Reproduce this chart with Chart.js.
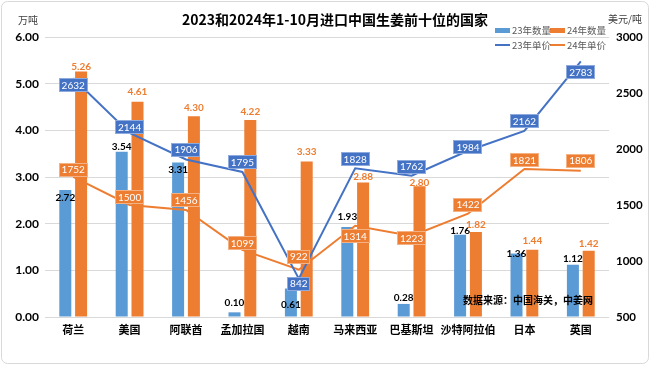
<!DOCTYPE html>
<html>
<head>
<meta charset="utf-8">
<script src="https://cdn.jsdelivr.net/npm/chart.js@4.4.0/dist/chart.umd.min.js"></script>
<style>
  html, body { margin: 0; padding: 0; background: #fff; }
  #wrap { width: 650px; height: 365px; }
</style>
</head>
<body>
<div id="wrap"><canvas id="gingerChart" width="650" height="365"></canvas></div>
<script>
// data
var categories = ["荷兰", "美国", "阿联酋", "孟加拉国", "越南", "马来西亚", "巴基斯坦", "沙特阿拉伯", "日本", "英国"];
var qty2023 = [2.72, 3.54, 3.31, 0.10, 0.61, 1.93, 0.28, 1.76, 1.36, 1.12];
var qty2024 = [5.26, 4.61, 4.30, 4.22, 3.33, 2.88, 2.80, 1.82, 1.44, 1.42];
var price2023 = [2632, 2144, 1906, 1795, 842, 1828, 1762, 1984, 2162, 2783];
var price2024 = [1752, 1500, 1456, 1099, 922, 1314, 1223, 1422, 1821, 1806];
var qtyTicks = [0, 1, 2, 3, 4, 5, 6];
var priceTicks = [500, 1000, 1500, 2000, 2500, 3000];

// label nudges (px, relative to bar top / line point)
var qty23LabelDy = [8, -5, 7, -10, 16, -10, -6, -4, 0, -6];
var qty24LabelDy = [-5, -10, -9, -8, -10, -6, -4, -7, -9, -7];
var price23LabelDy = [7, -6, -10, -10, 5, -9, -9, -4, -10, 11];
var price24LabelDy = [-7, -8, -10, -7, -13, 10, 2, -9, -9, -10];

var NUM_FONT = "Lato, 'Noto Sans CJK SC', sans-serif";
var CJK_FONT = "'Noto Sans CJK SC', sans-serif";
var BLUE_BAR = "#5B9BD5";
var ORANGE = "#ED7D31";
var BLUE_LINE = "#4472C4";

function drawBox(ctx, x, y, text, fill, stroke) {
  ctx.font = "10px " + NUM_FONT;
  var w = ctx.measureText(text).width + 6;
  var h = 14;
  ctx.fillStyle = fill;
  ctx.fillRect(Math.round(x - w / 2), Math.round(y - h / 2), Math.round(w), h);
  ctx.strokeStyle = stroke;
  ctx.lineWidth = 1;
  ctx.strokeRect(Math.round(x - w / 2) + 0.5, Math.round(y - h / 2) + 0.5, Math.round(w) - 1, h - 1);
  ctx.fillStyle = "#fff";
  ctx.textAlign = "center";
  ctx.textBaseline = "middle";
  ctx.fillText(text, x, y + 0.5);
}

var decorPlugin = {
  id: "decor",
  beforeDraw: function (chart) {
    var ctx = chart.ctx;
    ctx.save();
    ctx.fillStyle = "#fff";
    ctx.fillRect(0, 0, chart.width, chart.height);
    ctx.strokeStyle = "#d9d9d9";
    ctx.lineWidth = 1;
    ctx.beginPath();
    ctx.roundRect(1.5, 1.5, chart.width - 3, chart.height - 3, 6);
    ctx.stroke();
    ctx.restore();
  },
  afterDatasetsDraw: function (chart) {
    var ctx = chart.ctx;
    ctx.save();

    // bar value labels
    ctx.font = "bold 10px " + NUM_FONT;
    ctx.textAlign = "center";
    ctx.textBaseline = "middle";
    chart.getDatasetMeta(0).data.forEach(function (el, i) {
      ctx.fillStyle = "#000";
      ctx.fillText(qty2023[i].toFixed(2), el.x, el.y + qty23LabelDy[i]);
    });
    chart.getDatasetMeta(1).data.forEach(function (el, i) {
      ctx.fillStyle = ORANGE;
      ctx.fillText(qty2024[i].toFixed(2), el.x, el.y + qty24LabelDy[i]);
    });

    // line value boxes
    chart.getDatasetMeta(2).data.forEach(function (el, i) {
      drawBox(ctx, el.x, el.y + price23LabelDy[i], String(price2023[i]), BLUE_LINE, "#8faadc");
    });
    chart.getDatasetMeta(3).data.forEach(function (el, i) {
      drawBox(ctx, el.x, el.y + price24LabelDy[i], String(price2024[i]), ORANGE, "#f4b183");
    });
    ctx.restore();
  },
  afterDraw: function (chart) {
    var ctx = chart.ctx;
    ctx.save();

    // title
    ctx.fillStyle = "#000";
    ctx.textAlign = "center";
    ctx.textBaseline = "middle";
    ctx.font = "bold 14px " + CJK_FONT;
    ctx.fillText("2023和2024年1-10月进口中国生姜前十位的国家", 335, 20);

    // axis units
    ctx.font = "10px " + CJK_FONT;
    ctx.fillStyle = "#404040";
    ctx.fillText("万吨", 28, 20);
    ctx.fillText("美元/吨", 625, 19);

    // legend
    ctx.font = "9.5px " + CJK_FONT;
    ctx.textAlign = "left";
    ctx.fillStyle = BLUE_BAR;
    ctx.fillRect(495, 28, 15, 5);
    ctx.fillStyle = ORANGE;
    ctx.fillRect(550, 28, 15, 5);
    ctx.lineWidth = 2;
    ctx.strokeStyle = BLUE_LINE;
    ctx.beginPath(); ctx.moveTo(495, 45); ctx.lineTo(510, 45); ctx.stroke();
    ctx.strokeStyle = ORANGE;
    ctx.beginPath(); ctx.moveTo(550, 45); ctx.lineTo(565, 45); ctx.stroke();
    ctx.fillStyle = "#595959";
    ctx.fillText("23年数量", 512, 30);
    ctx.fillText("24年数量", 567, 30);
    ctx.fillText("23年单价", 512, 45);
    ctx.fillText("24年单价", 567, 45);

    // source
    ctx.fillStyle = "#000";
    ctx.textAlign = "center";
    ctx.font = "bold 10px " + CJK_FONT;
    ctx.fillText("数据来源：中国海关，中姜网", 528, 300);
    ctx.restore();
  }
};

var ctx = document.getElementById("gingerChart").getContext("2d");
new Chart(ctx, {
  type: "bar",
  data: {
    labels: categories,
    datasets: [
      {
        label: "23年数量",
        data: qty2023,
        backgroundColor: BLUE_BAR,
        borderWidth: 0,
        yAxisID: "y",
        order: 2,
        categoryPercentage: 0.56,
        barPercentage: 0.76
      },
      {
        label: "24年数量",
        data: qty2024,
        backgroundColor: ORANGE,
        borderWidth: 0,
        yAxisID: "y",
        order: 2,
        categoryPercentage: 0.56,
        barPercentage: 0.76
      },
      {
        type: "line",
        label: "23年单价",
        data: price2023,
        borderColor: BLUE_LINE,
        borderWidth: 2,
        pointRadius: 0,
        tension: 0,
        yAxisID: "y1",
        order: 1
      },
      {
        type: "line",
        label: "24年单价",
        data: price2024,
        borderColor: ORANGE,
        borderWidth: 2,
        pointRadius: 0,
        tension: 0,
        yAxisID: "y1",
        order: 1
      }
    ]
  },
  options: {
    responsive: false,
    animation: false,
    layout: { padding: { top: 37, left: 0, right: 0, bottom: 0 } },
    plugins: {
      legend: { display: false },
      tooltip: { enabled: false }
    },
    scales: {
      x: {
        grid: { display: false, drawTicks: false },
        border: { display: false },
        ticks: {
          padding: 6,
          autoSkip: false,
          maxRotation: 0,
          minRotation: 0,
          color: "#000",
          font: { family: CJK_FONT, size: 11, weight: "bold" }
        },
        afterFit: function (scale) { scale.height = 48; }
      },
      y: {
        position: "left",
        min: 0,
        max: 6,
        afterBuildTicks: function (scale) {
          scale.ticks = qtyTicks.map(function (v) { return { value: v }; });
        },
        grid: { color: "#d9d9d9", drawTicks: false },
        border: { display: false },
        ticks: {
          padding: 6,
          color: "#000",
          font: { family: NUM_FONT, size: 12, weight: "bold" },
          callback: function (v) { return Number(v).toFixed(2); }
        },
        afterFit: function (scale) { scale.width = 45; }
      },
      y1: {
        position: "right",
        min: 500,
        max: 3000,
        afterBuildTicks: function (scale) {
          scale.ticks = priceTicks.map(function (v) { return { value: v }; });
        },
        grid: { display: false, drawTicks: false },
        border: { display: false },
        ticks: {
          padding: 7,
          color: "#000",
          font: { family: NUM_FONT, size: 11.5, weight: "bold" },
          callback: function (v) { return String(v); }
        },
        afterFit: function (scale) { scale.width = 41; }
      }
    }
  },
  plugins: [decorPlugin]
});
</script>
</body>
</html>
